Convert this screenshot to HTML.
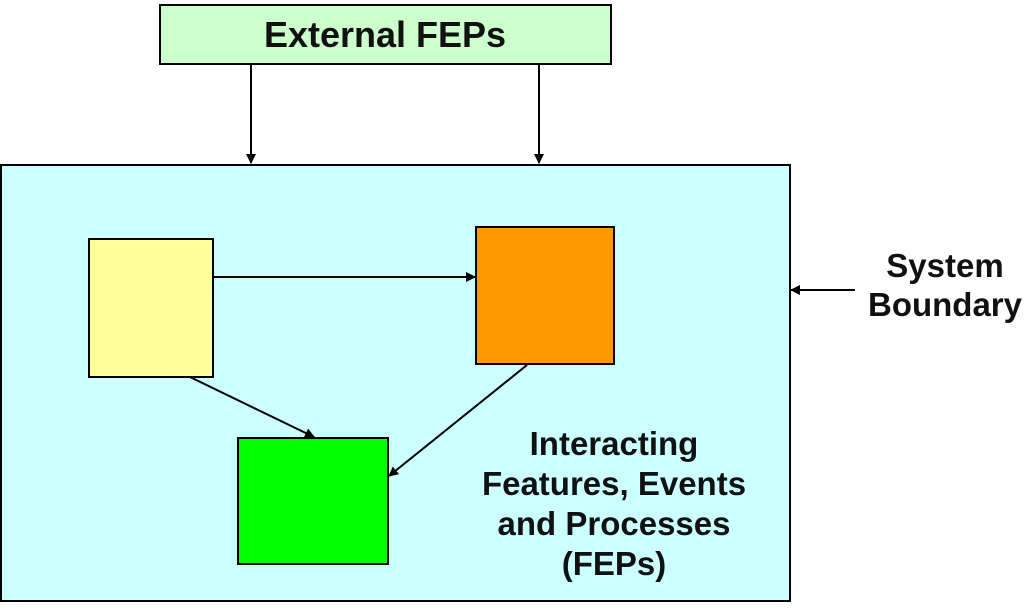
<!DOCTYPE html>
<html><head><style>
body{margin:0;width:1031px;height:603px;background:#fff;overflow:hidden;font-family:"Liberation Sans",Arial,sans-serif;font-weight:bold;}
</style></head><body>
<svg width="1031" height="603" xmlns="http://www.w3.org/2000/svg">
<defs><marker id="a" markerWidth="10" markerHeight="10" refX="9" refY="5" orient="auto" markerUnits="userSpaceOnUse"><path d="M0,0 L10,5 L0,10 z" fill="#000"/></marker></defs>
<rect x="1" y="165" width="789" height="436" fill="#ccffff" stroke="#000" stroke-width="2"/>
<rect x="160" y="5" width="451" height="59" fill="#ccffcc" stroke="#000" stroke-width="2"/>
<text x="385" y="47" font-size="36" font-weight="bold" text-anchor="middle" fill="#111" font-family="Liberation Sans">External FEPs</text>
<line x1="251" y1="64" x2="251" y2="163" stroke="#000" stroke-width="2" marker-end="url(#a)"/>
<line x1="539" y1="64" x2="539" y2="163" stroke="#000" stroke-width="2" marker-end="url(#a)"/>
<rect x="89" y="239" width="124" height="138" fill="#ffff99" stroke="#000" stroke-width="2"/>
<rect x="476" y="227" width="138" height="137" fill="#ff9900" stroke="#000" stroke-width="2"/>
<rect x="238" y="438" width="150" height="126" fill="#00ff00" stroke="#000" stroke-width="2"/>
<line x1="213" y1="277" x2="475" y2="277" stroke="#000" stroke-width="2" marker-end="url(#a)"/>
<line x1="190" y1="377" x2="314" y2="437" stroke="#000" stroke-width="2" marker-end="url(#a)"/>
<line x1="527" y1="365" x2="389" y2="476" stroke="#000" stroke-width="2" marker-end="url(#a)"/>
<line x1="855" y1="290" x2="791" y2="290" stroke="#000" stroke-width="2" marker-end="url(#a)"/>
<g font-size="33" font-weight="bold" text-anchor="middle" fill="#111" font-family="Liberation Sans">
<text x="614" y="455">Interacting</text>
<text x="614" y="495">Features, Events</text>
<text x="614" y="535">and Processes</text>
<text x="614" y="575">(FEPs)</text>
</g>
<g font-size="33" font-weight="bold" text-anchor="middle" fill="#111" font-family="Liberation Sans">
<text x="945" y="277">System</text>
<text x="945" y="316">Boundary</text>
</g>
</svg>
</body></html>
